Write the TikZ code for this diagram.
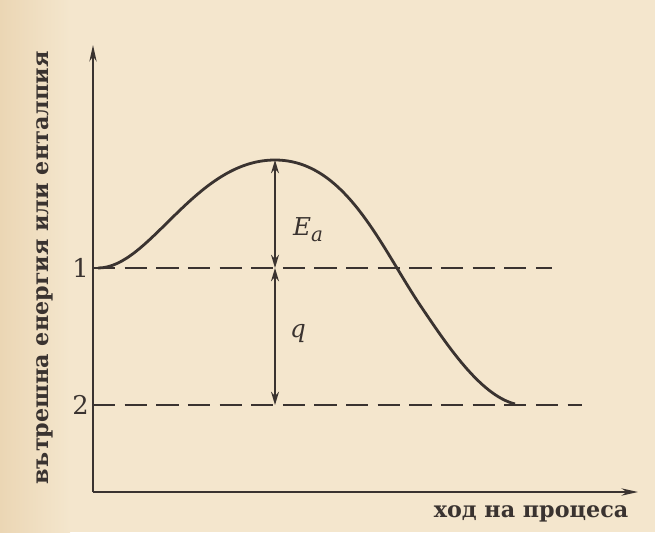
\documentclass[tikz,border=0pt]{standalone}
\usepackage{fontspec}
\setmainfont{DejaVu Serif}
\usepackage{tikz}
\usetikzlibrary{arrows.meta}
\definecolor{paper}{HTML}{F4E6CD}
\definecolor{paperdark}{HTML}{EBD6B4}
\definecolor{ink}{HTML}{3A3330}
\tikzset{axis/.style={-{Stealth[length=5mm,width=2.2mm]},ink,line width=1.5pt},
level/.style={ink,line width=1.4pt,dash pattern=on 19pt off 8pt},
gap/.style={{Stealth[length=4mm,width=2.4mm]}-{Stealth[length=4mm,width=2.4mm]},ink,line width=1.1pt},
tick/.style={font=\fontsize{22}{24}\selectfont,text=ink},
sym/.style={font=\itshape\fontsize{21}{24}\selectfont,text=ink},
lbl/.style={font=\bfseries\fontsize{19}{22}\selectfont,text=ink}}

\begin{document}
\begin{tikzpicture}[x=0.03cm,y=-0.03cm]
\fill[paper] (0,0) rectangle (655,532);
\shade[left color=paperdark,right color=paper] (0,0) rectangle (70,532);
\useasboundingbox (0,0) rectangle (655,532);
\coordinate (O) at (93,492);
\coordinate (ytop) at (93,45);
\coordinate (xend) at (638,492);
\coordinate (L1) at (93,268);
\coordinate (L2) at (93,405);
\coordinate (d1) at (552,268);
\coordinate (d2) at (582,405);
\coordinate (peak) at (275,160);
\coordinate (a1) at (275,268);
\coordinate (a2) at (275,405);
\draw[axis] (O)--(ytop);
\draw[axis] (O)--(xend);
\draw[level] (L1)--(d1);
\draw[level] (L2)--(d2);
% reaction path
\draw[ink,line width=2.4pt] (98,268) .. controls (150,268) and (195,160) .. (peak)
  .. controls (345,160) and (380,245) .. (420,305) .. controls (447,345) and (480,395) .. (515,404);
\draw[gap] (peak)--(a1);
\draw[gap] (a1)--(a2);
\node[tick,left] (n1) at (L1) {1};
\node[tick,left] (n2) at (L2) {2};
\node[sym] (Ea) at (308,230) {E\raisebox{-5pt}{\fontsize{17}{18}\selectfont a}};
\node[sym] (q) at (298,333) {q};
\node[lbl,rotate=90] (ylab) at (45,268) {вътрешна енергия или енталпия};
\node[lbl] (xlab) at (531,514) {ход на процеса};
\end{tikzpicture}
\end{document}
